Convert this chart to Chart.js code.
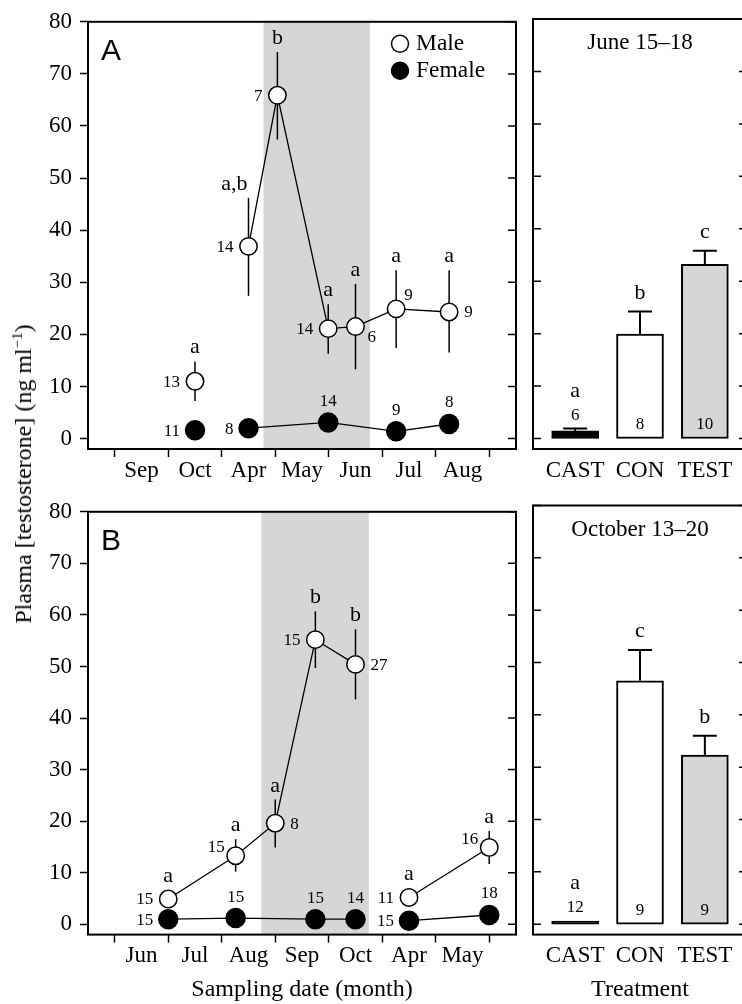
<!DOCTYPE html>
<html lang="en">
<head>
<meta charset="UTF-8" />
<title>Plasma testosterone</title>
<style>
  html, body { margin: 0; padding: 0; background: #fff; overflow: hidden; }
  #wrap { position: relative; width: 742px; height: 1004px; overflow: hidden; }
  canvas { position: absolute; }
  #ylab {
    position: absolute; left: 23px; top: 474px;
    font-family: "Liberation Serif", "Times New Roman", serif; font-size: 24px;
    white-space: nowrap; transform: translate(-50%, -50%) rotate(-90deg);
  }
  #ylab sup { font-size: 15px; }
</style>
</head>
<body>
<div id="wrap">
  <canvas id="chartA" width="527" height="490" style="left:0;top:0"></canvas>
  <canvas id="barJun" width="230" height="490" style="left:527px;top:0"></canvas>
  <canvas id="chartB" width="527" height="514" style="left:0;top:490px"></canvas>
  <canvas id="barOct" width="230" height="514" style="left:527px;top:490px"></canvas>
  <div id="ylab">Plasma [testosterone] (ng ml<sup>−1</sup>)</div>
</div>
<script src="https://cdn.jsdelivr.net/npm/chart.js@4.4.0/dist/chart.umd.min.js"></script>
<script>
const SERIF = '"Liberation Serif", "Times New Roman", serif';
Chart.defaults.font.family = SERIF;
Chart.defaults.font.size = 23;
Chart.defaults.color = '#000';

// ---- panel A (x = month slot, 1 = first labelled month) ----
const monthsA = ['Sep', 'Oct', 'Apr', 'May', 'Jun', 'Jul', 'Aug'];
const shadeA = [3.28, 5.27];
const maleXA = [2, 3, 3.54, 4.49, 5, 5.76, 6.75];
const maleA = [11.0, 36.9, 65.9, 21.1, 21.5, 24.9, 24.3];
const maleLoA = [7.2, 27.4, 57.4, 16.3, 13.3, 17.4, 16.5];
const maleHiA = [14.8, 46.2, 74.2, 25.8, 29.7, 32.3, 32.3];
const maleNA = [13, 14, 7, 14, 6, 9, 9];
const maleLettersA = ['a', 'a,b', 'b', 'a', 'a', 'a', 'a'];
const femaleXA = [2, 3, 4.49, 5.76, 6.75];
const femaleA = [1.6, 2.0, 3.1, 1.4, 2.8];
const femaleNA = [11, 8, 14, 9, 8];

// ---- panel B ----
const monthsB = ['Jun', 'Jul', 'Aug', 'Sep', 'Oct', 'Apr', 'May'];
const shadeB = [3.24, 5.25];
const maleXB = [1.5, 2.76, 3.5, 4.25, 5.0, 6.0, 7.5];
const maleB = [4.9, 13.3, 19.6, 55.2, 50.4, 5.2, 14.9];
const maleLoB = [null, 10.2, 14.9, 49.7, 43.6, null, 11.7];
const maleHiB = [null, 16.5, 24.2, 60.7, 57.2, null, 18.1];
const maleNB = [15, 15, 8, 15, 27, 11, 16];
const maleLettersB = ['a', 'a', 'a', 'b', 'b', 'a', 'a'];
const femaleXB = [1.5, 2.76, 4.25, 5.0, 6.0, 7.5];
const femaleB = [1.0, 1.2, 1.0, 1.0, 0.7, 1.8];
const femaleNB = [15, 15, 15, 14, 15, 18];

// ---- treatment bars ----
const treatments = ['CAST', 'CON', 'TEST'];
const junMean = [1.45, 19.9, 33.2];
const junErr = [1.9, 24.2, 35.8];
const junN = [6, 8, 10];
const junLetters = ['a', 'b', 'c'];
const octMean = [0.6, 46.5, 32.3];
const octErr = [0.6, 52.4, 36.0];
const octN = [12, 9, 9];
const octLetters = ['a', 'c', 'b'];

const plasmaTicks = [0, 10, 20, 30, 40, 50, 60, 70, 80];
const slotTicks = [];
for (let v = 0.5; v < 8; v += 0.5) slotTicks.push(v);

// where the sample size sits relative to its point: dx, dy, align
const nOffset = {
  l: [-15, 1, 'right'],
  r: [15, 1, 'left'],
  t: [0, -21, 'center'],
  tl: [-11, -8, 'right'],
  tr: [8, -13, 'left'],
  br: [12, 11, 'left'],
};

function decorPlugin(cfg) {
  return {
    id: 'decor',
    beforeDatasetsDraw(chart) {
      const { ctx, chartArea: ca, scales: { x, y } } = chart;
      ctx.save();
      if (cfg.shade) {
        const x0 = x.getPixelForValue(cfg.shade[0]);
        const x1 = x.getPixelForValue(cfg.shade[1]);
        ctx.fillStyle = '#d6d6d6';
        ctx.fillRect(x0, ca.top, x1 - x0, ca.bottom - ca.top);
      }
      ctx.strokeStyle = '#000';
      ctx.lineWidth = 1.5;
      (cfg.series || []).forEach(s => {
        if (!s.lo) return;
        s.xs.forEach((xv, i) => {
          if (s.lo[i] == null) return;
          const px = x.getPixelForValue(xv);
          ctx.beginPath();
          ctx.moveTo(px, y.getPixelForValue(s.lo[i]));
          ctx.lineTo(px, y.getPixelForValue(s.hi[i]));
          ctx.stroke();
        });
      });
      ctx.restore();
    },
    afterDatasetsDraw(chart) {
      if (!cfg.bars) return;
      const { ctx, scales: { x, y } } = chart;
      const b = cfg.bars;
      ctx.save();
      ctx.strokeStyle = '#000';
      ctx.lineWidth = 2;
      b.mean.forEach((m, i) => {
        const px = x.getPixelForValue(i + 1);
        const top = y.getPixelForValue(b.err[i]);
        if (b.err[i] <= m) return;
        ctx.beginPath();
        ctx.moveTo(px, y.getPixelForValue(m));
        ctx.lineTo(px, top);
        ctx.moveTo(px - 12, top);
        ctx.lineTo(px + 12, top);
        ctx.stroke();
      });
      ctx.restore();
    },
    afterDraw(chart) {
      const { ctx, chartArea: ca, scales: { x, y } } = chart;
      ctx.save();
      ctx.strokeStyle = '#000';
      ctx.fillStyle = '#000';
      ctx.lineWidth = 2;
      ctx.strokeRect(ca.left, ca.top, ca.right - ca.left, ca.bottom - ca.top);
      ctx.lineWidth = 1.5;
      ctx.beginPath();
      plasmaTicks.forEach(v => {
        const py = y.getPixelForValue(v);
        if (cfg.innerLeft) { ctx.moveTo(ca.left, py); ctx.lineTo(ca.left + 8, py); }
        ctx.moveTo(ca.right - 8, py);
        ctx.lineTo(ca.right, py);
      });
      ctx.stroke();

      (cfg.series || []).forEach(s => {
        s.xs.forEach((xv, i) => {
          const px = x.getPixelForValue(xv);
          const py = y.getPixelForValue(s.ys[i]);
          if (s.letters) {
            const hi = s.hi && s.hi[i] != null ? y.getPixelForValue(s.hi[i]) : Infinity;
            const topPx = Math.min(hi, py - s.radius);
            const lab = s.letters[i];
            ctx.font = `22px ${SERIF}`;
            ctx.textBaseline = 'alphabetic';
            ctx.textAlign = lab.includes(',') ? 'right' : 'center';
            ctx.fillText(lab, lab.includes(',') ? px - 1 : px, topPx - 8);
          }
          const [dx, dy, al] = nOffset[s.nPos[i]];
          ctx.font = `17px ${SERIF}`;
          ctx.textAlign = al;
          ctx.textBaseline = 'middle';
          ctx.fillText(String(s.n[i]), px + dx, py + dy);
        });
      });

      if (cfg.bars) {
        const b = cfg.bars;
        const base = y.getPixelForValue(0);
        b.mean.forEach((m, i) => {
          const px = x.getPixelForValue(i + 1);
          const topBar = y.getPixelForValue(m);
          const topErr = y.getPixelForValue(b.err[i]);
          ctx.textAlign = 'center';
          ctx.font = `17px ${SERIF}`;
          ctx.textBaseline = 'middle';
          let letterY;
          if (base - topBar > 30) {
            ctx.fillText(String(b.n[i]), px, base - 14);
            letterY = topErr - 13;
          } else {
            const ny = topErr - 13;
            ctx.fillText(String(b.n[i]), px, ny);
            letterY = ny - 19;
          }
          ctx.font = `22px ${SERIF}`;
          ctx.textBaseline = 'alphabetic';
          ctx.fillText(b.letters[i], px, letterY);
        });
      }

      if (cfg.legend) {
        const lx = ca.right - 116;
        [[ca.top + 22, '#fff', 'Male'], [ca.top + 49, '#000', 'Female']].forEach(([ly, fill, txt]) => {
          ctx.beginPath();
          ctx.arc(lx, ly, 8.5, 0, Math.PI * 2);
          ctx.fillStyle = fill;
          ctx.fill();
          ctx.stroke();
          ctx.fillStyle = '#000';
          ctx.font = `23.5px ${SERIF}`;
          ctx.textAlign = 'left';
          ctx.textBaseline = 'middle';
          ctx.fillText(txt, lx + 16, ly);
        });
      }
      if (cfg.tag) {
        ctx.font = '30px "Liberation Sans", Arial, sans-serif';
        ctx.textAlign = 'left';
        ctx.textBaseline = 'alphabetic';
        ctx.fillText(cfg.tag, ca.left + 13, ca.top + 38);
      }
      if (cfg.title) {
        ctx.font = `23px ${SERIF}`;
        ctx.textAlign = 'center';
        ctx.textBaseline = 'middle';
        ctx.fillText(cfg.title, (ca.left + ca.right) / 2, ca.top + 24);
      }
      ctx.restore();
    },
  };
}

function axisTitle(text) {
  return text
    ? { display: true, text: text, font: { size: 24 }, padding: { top: 0, bottom: 0 } }
    : { display: false };
}

function linePanel(id, pad, xAxisH, months, shade, male, female, tag, legend, xTitle) {
  const mk = (s, fill, r) => ({
    data: s.xs.map((xv, i) => ({ x: xv, y: s.ys[i] })),
    borderColor: '#000',
    borderWidth: 1.3,
    pointRadius: r,
    pointBackgroundColor: fill,
    pointBorderColor: '#000',
    pointBorderWidth: 1.5,
    segment: {
      borderColor: c => (s.breakAfter.includes(c.p0DataIndex) ? 'rgba(0,0,0,0)' : '#000'),
    },
  });
  male.radius = 9;
  female.radius = 9.5;
  return new Chart(document.getElementById(id), {
    type: 'line',
    data: { datasets: [mk(male, '#fff', 8.7), mk(female, '#000', 9.5)] },
    options: {
      responsive: false,
      animation: false,
      events: [],
      layout: { padding: pad },
      plugins: { legend: { display: false }, tooltip: { enabled: false } },
      scales: {
        x: {
          type: 'linear', min: 0, max: 8,
          afterBuildTicks: s => { s.ticks = slotTicks.map(v => ({ value: v })); },
          afterFit: s => { s.height = xAxisH; },
          ticks: {
            autoSkip: false, maxRotation: 0, minRotation: 0, padding: 0,
            callback: v => (Number.isInteger(v) ? months[v - 1] : ''),
          },
          grid: {
            drawOnChartArea: false, tickLength: 8, tickWidth: 1.5,
            tickColor: c => (Number.isInteger(c.tick.value) ? 'rgba(0,0,0,0)' : '#000'),
          },
          border: { display: false },
          title: axisTitle(xTitle),
        },
        y: {
          min: -2, max: 80,
          afterBuildTicks: s => { s.ticks = plasmaTicks.map(v => ({ value: v })); },
          afterFit: s => { s.width = 88; },
          ticks: { padding: 8 },
          grid: { drawOnChartArea: false, tickLength: 8, tickWidth: 1.5, tickColor: '#000' },
          border: { display: false },
        },
      },
    },
    plugins: [decorPlugin({ shade, series: [male, female], tag, legend })],
  });
}

function barPanel(id, pad, xAxisH, mean, err, n, letters, title, xTitle) {
  return new Chart(document.getElementById(id), {
    type: 'bar',
    data: {
      datasets: [{
        data: mean.map((m, i) => ({ x: i + 1, y: m })),
        backgroundColor: ['#000', '#fff', '#d6d6d6'],
        borderColor: '#000',
        borderWidth: 2,
        borderSkipped: false,
        barThickness: 47,
      }],
    },
    options: {
      responsive: false,
      animation: false,
      events: [],
      layout: { padding: pad },
      plugins: { legend: { display: false }, tooltip: { enabled: false } },
      scales: {
        x: {
          type: 'linear', min: 0.35, max: 3.65, offset: false,
          afterBuildTicks: s => { s.ticks = treatments.map((t, i) => ({ value: i + 1 })); },
          afterFit: s => { s.height = xAxisH; },
          ticks: { autoSkip: false, maxRotation: 0, padding: 8, callback: v => treatments[v - 1] },
          grid: { display: false, drawTicks: false, offset: false },
          border: { display: false },
          title: axisTitle(xTitle),
        },
        y: { display: false, min: -2, max: 80 },
      },
    },
    plugins: [decorPlugin({ bars: { mean, err, n, letters }, title, innerLeft: true })],
  });
}

linePanel('chartA', { top: 19, right: 9, left: 0, bottom: 0 }, 41, monthsA, shadeA,
  { xs: maleXA, ys: maleA, lo: maleLoA, hi: maleHiA, n: maleNA, letters: maleLettersA,
    nPos: ['l', 'l', 'l', 'l', 'br', 'tr', 'r'], breakAfter: [0] },
  { xs: femaleXA, ys: femaleA, n: femaleNA, nPos: ['l', 'l', 't', 't', 't'], breakAfter: [0] },
  'A', true, null);

linePanel('chartB', { top: 15.5, right: 9, left: 0, bottom: 0 }, 69.4, monthsB, shadeB,
  { xs: maleXB, ys: maleB, lo: maleLoB, hi: maleHiB, n: maleNB, letters: maleLettersB,
    nPos: ['l', 'tl', 'r', 'l', 'r', 'l', 'tl'], breakAfter: [4] },
  { xs: femaleXB, ys: femaleB, n: femaleNB, nPos: ['l', 't', 't', 't', 'l', 't'], breakAfter: [3] },
  'B', false, 'Sampling date (month)');

barPanel('barJun', { top: 19, left: 6, right: 10, bottom: 0 }, 41,
  junMean, junErr, junN, junLetters, 'June 15–18', null);
barPanel('barOct', { top: 15.5, left: 6, right: 10, bottom: 0 }, 69.4,
  octMean, octErr, octN, octLetters, 'October 13–20', 'Treatment');
</script>
</body>
</html>
